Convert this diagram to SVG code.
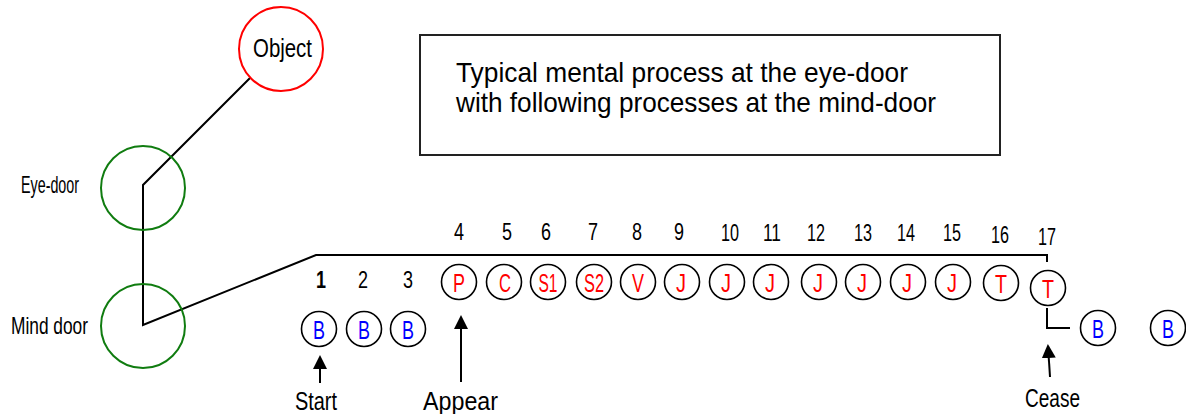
<svg xmlns="http://www.w3.org/2000/svg" width="1186" height="414" viewBox="0 0 1186 414">
<style>
text{font-family:"Liberation Sans Narrow","Liberation Sans",Arial,sans-serif;fill:#000}
.lbl{font-size:24px}
.num{font-size:23px;text-anchor:middle}
.cl{font-size:26px;text-anchor:middle}
.red{fill:#ff0000}
.blue{fill:#0000ff}
.node{fill:#fff;stroke:#000;stroke-width:1.6}
.door{fill:none;stroke:#107c10;stroke-width:2}
.obj{fill:#fff;stroke:#ff0000;stroke-width:2}
.ln{fill:none;stroke:#000;stroke-width:2}
</style>
<defs>
<marker id="ah" markerWidth="7" markerHeight="7" refX="6" refY="3.5" orient="auto" markerUnits="strokeWidth">
<path d="M0,0 L7,3.5 L0,7 Z" fill="#000"/>
</marker>
</defs>

<g id="connectors">
<polyline class="ln" points="250,78 143,185 143,325 316,255 1047,255 1047,262"/>
<polyline class="ln" points="1047,308 1047,328 1070,328"/>
<line class="ln" x1="320" y1="383" x2="320" y2="357" marker-end="url(#ah)"/>
<line class="ln" x1="461" y1="382" x2="461" y2="317" marker-end="url(#ah)"/>
<line class="ln" x1="1050" y1="377" x2="1048" y2="346" marker-end="url(#ah)"/>
</g>

<g id="title">
<rect x="420" y="35" width="580" height="120" fill="none" stroke="#222" stroke-width="2"/>
<text x="456" y="82" style="font-size:28px" textLength="452" lengthAdjust="spacingAndGlyphs">Typical mental process at the eye-door</text>
<text x="456" y="112" style="font-size:28px" textLength="480" lengthAdjust="spacingAndGlyphs">with following processes at the mind-door</text>
</g>

<g id="object">
<circle class="obj" cx="281" cy="49" r="42"/>
<text x="253" y="57" style="font-size:26px" textLength="59" lengthAdjust="spacingAndGlyphs">Object</text>
</g>
<g id="eye-door">
<circle class="door" cx="143" cy="188" r="42"/>
<text x="21" y="193" class="lbl" textLength="58" lengthAdjust="spacingAndGlyphs">Eye-door</text>
</g>
<g id="mind-door">
<circle class="door" cx="143" cy="326" r="42"/>
<text x="11" y="334" class="lbl" textLength="77" lengthAdjust="spacingAndGlyphs">Mind door</text>
</g>

<g id="numbers-low">
<text x="321" y="288" class="num" style="font-weight:bold" textLength="10" lengthAdjust="spacingAndGlyphs">1</text>
<text x="363" y="288" class="num" textLength="10" lengthAdjust="spacingAndGlyphs">2</text>
<text x="408" y="288" class="num" textLength="10" lengthAdjust="spacingAndGlyphs">3</text>
</g>
<g id="numbers-high">
<text x="459" y="240" class="num" textLength="10" lengthAdjust="spacingAndGlyphs">4</text>
<text x="507" y="240" class="num" textLength="10" lengthAdjust="spacingAndGlyphs">5</text>
<text x="546" y="240" class="num" textLength="10" lengthAdjust="spacingAndGlyphs">6</text>
<text x="593" y="240" class="num" textLength="10" lengthAdjust="spacingAndGlyphs">7</text>
<text x="637" y="240" class="num" textLength="10" lengthAdjust="spacingAndGlyphs">8</text>
<text x="679" y="240" class="num" textLength="10" lengthAdjust="spacingAndGlyphs">9</text>
<text x="730" y="241" class="num" textLength="18" lengthAdjust="spacingAndGlyphs">10</text>
<text x="772" y="241" class="num" textLength="18" lengthAdjust="spacingAndGlyphs">11</text>
<text x="816" y="241" class="num" textLength="18" lengthAdjust="spacingAndGlyphs">12</text>
<text x="863" y="241" class="num" textLength="18" lengthAdjust="spacingAndGlyphs">13</text>
<text x="906" y="241" class="num" textLength="18" lengthAdjust="spacingAndGlyphs">14</text>
<text x="952" y="241" class="num" textLength="18" lengthAdjust="spacingAndGlyphs">15</text>
<text x="1000" y="243" class="num" textLength="18" lengthAdjust="spacingAndGlyphs">16</text>
<text x="1047" y="245" class="num" textLength="18" lengthAdjust="spacingAndGlyphs">17</text>
</g>

<g id="b1"><circle class="node" cx="319" cy="329" r="17.5"/><text x="319" y="338.5" class="cl blue" textLength="12" lengthAdjust="spacingAndGlyphs">B</text></g>
<g id="b2"><circle class="node" cx="364" cy="329" r="17.5"/><text x="364" y="338.5" class="cl blue" textLength="12" lengthAdjust="spacingAndGlyphs">B</text></g>
<g id="b3"><circle class="node" cx="408" cy="329" r="17.5"/><text x="408" y="338.5" class="cl blue" textLength="12" lengthAdjust="spacingAndGlyphs">B</text></g>

<g id="p"><circle class="node" cx="459" cy="282" r="17.5"/><text x="459" y="291.5" class="cl red" textLength="12" lengthAdjust="spacingAndGlyphs">P</text></g>
<g id="c"><circle class="node" cx="504" cy="282" r="17.5"/><text x="505" y="291.5" class="cl red" textLength="12" lengthAdjust="spacingAndGlyphs">C</text></g>
<g id="s1"><circle class="node" cx="548" cy="282" r="17.5"/><text x="548" y="291.5" class="cl red" textLength="19" lengthAdjust="spacingAndGlyphs">S1</text></g>
<g id="s2"><circle class="node" cx="594" cy="282" r="17.5"/><text x="594" y="291.5" class="cl red" textLength="20" lengthAdjust="spacingAndGlyphs">S2</text></g>
<g id="v"><circle class="node" cx="638" cy="282" r="17.5"/><text x="638" y="291.5" class="cl red" textLength="12" lengthAdjust="spacingAndGlyphs">V</text></g>
<g id="j1"><circle class="node" cx="682" cy="282" r="17.5"/><text x="681" y="291.5" class="cl red" textLength="10" lengthAdjust="spacingAndGlyphs">J</text></g>
<g id="j2"><circle class="node" cx="727" cy="282" r="17.5"/><text x="726" y="291.5" class="cl red" textLength="10" lengthAdjust="spacingAndGlyphs">J</text></g>
<g id="j3"><circle class="node" cx="771" cy="282" r="17.5"/><text x="770" y="291.5" class="cl red" textLength="10" lengthAdjust="spacingAndGlyphs">J</text></g>
<g id="j4"><circle class="node" cx="819" cy="282" r="17.5"/><text x="818" y="291.5" class="cl red" textLength="10" lengthAdjust="spacingAndGlyphs">J</text></g>
<g id="j5"><circle class="node" cx="863" cy="282" r="17.5"/><text x="862" y="291.5" class="cl red" textLength="10" lengthAdjust="spacingAndGlyphs">J</text></g>
<g id="j6"><circle class="node" cx="908" cy="282" r="17.5"/><text x="907" y="291.5" class="cl red" textLength="10" lengthAdjust="spacingAndGlyphs">J</text></g>
<g id="j7"><circle class="node" cx="953" cy="282" r="17.5"/><text x="952" y="291.5" class="cl red" textLength="10" lengthAdjust="spacingAndGlyphs">J</text></g>
<g id="t1"><circle class="node" cx="1001" cy="283" r="17.5"/><text x="1001" y="292.5" class="cl red" textLength="12" lengthAdjust="spacingAndGlyphs">T</text></g>
<g id="t2"><circle class="node" cx="1048" cy="288" r="17.5"/><text x="1048" y="297.5" class="cl red" textLength="12" lengthAdjust="spacingAndGlyphs">T</text></g>

<g id="b4"><circle class="node" cx="1098" cy="328" r="17.5"/><text x="1098" y="337.5" class="cl blue" textLength="12" lengthAdjust="spacingAndGlyphs">B</text></g>
<g id="b5"><circle class="node" cx="1168" cy="328" r="17.5"/><text x="1168" y="337.5" class="cl blue" textLength="12" lengthAdjust="spacingAndGlyphs">B</text></g>

<g id="labels">
<text x="295" y="410" style="font-size:25px" textLength="42" lengthAdjust="spacingAndGlyphs">Start</text>
<text x="423" y="410" style="font-size:25px" textLength="75" lengthAdjust="spacingAndGlyphs">Appear</text>
<text x="1025" y="407" style="font-size:25px" textLength="55" lengthAdjust="spacingAndGlyphs">Cease</text>
</g>
</svg>
